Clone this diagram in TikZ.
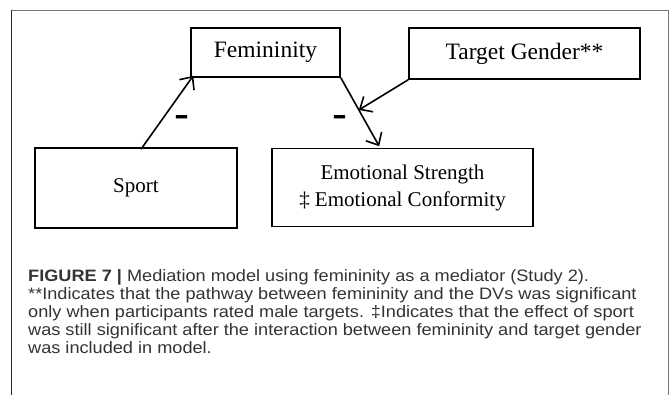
\documentclass[tikz,border=0pt]{standalone}
\usepackage{fontspec}
\setmainfont{Liberation Serif}
\newfontfamily\capfont[FakeStretch=1.1]{Liberation Sans}
\usetikzlibrary{arrows.meta,calc}
\definecolor{captxt}{HTML}{333333}
\definecolor{framegray}{HTML}{777777}
\tikzset{
  box/.style={draw=black, line width=1.6pt, inner sep=0pt, align=center},
  toplabel/.style={font=\fontsize{23.5}{26}\selectfont},
  botlabel/.style={font=\fontsize{21}{27}\selectfont},
  path arrow/.style={line width=1.6pt, -{Straight Barb[length=10pt,width=18pt,line width=1.6pt]}},
  minuslabel/.style={font=\fontsize{22}{24}\selectfont\bfseries, inner sep=0pt},
}
\begin{document}
\begin{tikzpicture}[x=1pt,y=-1pt]
\useasboundingbox (0,0) rectangle (670,395);
\fill[white] (0,0) rectangle (670,395);
% frame
\draw[line width=0.9pt, framegray] (11,10) -- (668,10) -- (668,395);
\draw[line width=0.9pt, black!85] (11,10) -- (11,395);
% boxes
\node[box, toplabel, minimum width=149pt, minimum height=49pt] (fem) at (265.5,52.5) {Femininity};
\node[box, toplabel, minimum width=231pt, minimum height=51pt] (tg) at (524.5,53.5) {Target Gender**};
\node[box, botlabel, minimum width=202pt, minimum height=80pt] (sport) at (136,188) {Sport};
\node[box, botlabel, minimum width=261pt, minimum height=78pt] (emot) at (402.5,187.5) {Emotional Strength\\‡ Emotional Conformity};
% connectors
\coordinate (a1) at ($(sport.north)+(5,2)$);
\coordinate (b1) at ($(fem.south west)+(3,-2)$);
\draw[path arrow] (a1) -- (b1);
\coordinate (a2) at (fem.south east);
\coordinate (b2) at ($(emot.north west)+(108,-1.5)$);
\draw[path arrow] (a2) -- (b2);
\coordinate (m) at ($(a2)!0.47!(b2)$);
\draw[path arrow] (tg.south west) -- (m);
% signs
\node[minuslabel] (s1) at (182,122) {\scalebox{1}[2.2]{–}};
\node[minuslabel] (s2) at (340,122) {\scalebox{1}[2.2]{–}};
% caption
\node[anchor=base west, inner sep=0pt, align=left, text=captxt,
      font=\capfont\fontsize{16.5}{18.2}\selectfont] (cap) at (28,354)
  {\textbf{FIGURE 7 |} Mediation model using femininity as a mediator (Study 2).\\
   **Indicates that the pathway between femininity and the DVs was significant\\
   only when participants rated male targets. ‡Indicates that the effect of sport\\
   was still significant after the interaction between femininity and target gender\\
   was included in model.};
\end{tikzpicture}
\end{document}
